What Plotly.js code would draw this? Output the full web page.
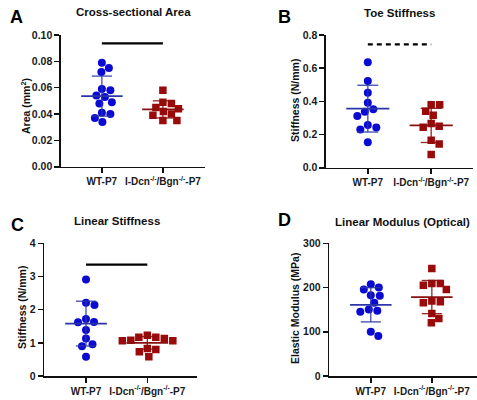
<!DOCTYPE html>
<html>
<head>
<meta charset="utf-8">
<script src="https://cdn.plot.ly/plotly-3.0.1.min.js"></script>
<style>html,body{margin:0;padding:0;background:#fff;}#chart{width:477px;height:400px;}</style>
</head>
<body>
<div id="chart"></div>
<script>
// ---------- data ----------
const groups = ['WT-P7', 'I-Dcn<sup>-/-</sup>/Bgn<sup>-/-</sup>-P7'];
const panelLetters = ['A', 'B', 'C', 'D'];
const panelTitles = ['Cross-sectional Area', 'Toe Stiffness', 'Linear Stiffness', 'Linear Modulus (Optical)'];
const yTitles = ['Area (mm<sup>2</sup>)', 'Stiffness (N/mm)', 'Stiffness (N/mm)', 'Elastic Modulus (MPa)'];

const areaWT = [0.079, 0.075, 0.072, 0.059, 0.058, 0.054, 0.053, 0.049, 0.048, 0.041, 0.040, 0.037, 0.034];
const areaKO = [0.058, 0.049, 0.048, 0.045, 0.044, 0.042, 0.040, 0.039, 0.035, 0.035];
const toeWT = [0.635, 0.522, 0.452, 0.392, 0.352, 0.338, 0.312, 0.257, 0.243, 0.231, 0.153];
const toeKO = [0.380, 0.380, 0.340, 0.316, 0.266, 0.250, 0.244, 0.165, 0.143, 0.080];
const linWT = [2.91, 2.21, 2.14, 1.72, 1.63, 1.62, 1.39, 1.13, 0.96, 0.90, 0.58];
const linKO = [1.23, 1.17, 1.17, 1.13, 1.08, 1.06, 1.06, 0.83, 0.80, 0.73, 0.58];
const modWT = [207.7, 200.2, 195.7, 182.8, 181.3, 165.5, 150.6, 147.4, 145.1, 100.0, 90.3];
const modKO = [243.1, 209.2, 209.2, 205.4, 195.7, 169.3, 167.7, 165.5, 141.5, 130.2, 120.3];

const meanWT = [0.0536, 0.356, 1.58, 161];
const sdWT   = [0.0152, 0.141, 0.675, 38.7];
const meanKO = [0.0435, 0.255, 1.00, 178.5];
const sdKO   = [0.0065, 0.103, 0.19, 37.5];

const yMax = [0.10, 0.8, 4, 300];
const yDtick = [0.02, 0.2, 1, 100];
const yFormat = ['.2f', '.1f', 'd', 'd'];
const sigBarY = [0.0937, 0.744, 3.36, null];
const sigBarDash = ['solid', '5px,4px', 'solid', null];

// ---------- layout helpers ----------
const W = 477, H = 400;
const fx = p => p / W, fy = p => 1 - p / H;
const boxes = [
  {x0: 61, x1: 205, y0: 35, y1: 166.7, xr: [-0.67, 1.69]},
  {x0: 326, x1: 473, y0: 35, y1: 167.7, xr: [-0.66, 1.66]},
  {x0: 44.3, x1: 197, y0: 243.3, y1: 376, xr: [-0.68, 1.81]},
  {x0: 329.3, x1: 477, y0: 243.3, y1: 376, xr: [-0.68, 1.74]}
];
const letterPos = [[16, 17], [284, 17], [17, 225], [284, 220]];
const titlePos = [[133, 12], [399, 13], [117, 221], [402, 222]];
const yTitlePos = [[25, 106], [295, 101], [22, 308], [295, 309]];

const seriesData = [[areaWT, areaKO], [toeWT, toeKO], [linWT, linKO], [modWT, modKO]];
const means = [meanWT, meanKO], sds = [sdWT, sdKO];
const markerColor = ['#0a0ad2', '#9b0a0a'];
const lineColor = ['#2a36a8', '#8a1010'];
const symbols = ['circle', 'square'];
const FAM = 'Liberation Sans, Arial, sans-serif';

// beeswarm offsets (in data x units)
function swarm(vals, pxY, pxX) {
  const D = 8.4;
  const order = vals.map((v, i) => i).sort((a, b) => vals[b] - vals[a]);
  const placed = [];
  const off = new Array(vals.length).fill(0);
  order.forEach(i => {
    const y = vals[i] * pxY;
    for (let k = 0; k < 300; k++) {
      const cand = (k === 0) ? 0 : (k % 2 ? 1 : -1) * Math.ceil(k / 2) * 0.5;
      const ok = placed.every(p => Math.hypot(p.x - cand, p.y - y) >= D);
      if (ok) { placed.push({x: cand, y: y}); off[i] = cand / pxX; break; }
    }
  });
  return off;
}

const traces = [];
const layout = {
  width: W, height: H, margin: {l: 0, r: 0, t: 0, b: 0},
  paper_bgcolor: '#ffffff', plot_bgcolor: 'rgba(0,0,0,0)',
  showlegend: false,
  font: {family: FAM, color: '#1a1a1a', weight: 'bold'},
  annotations: [], shapes: []
};

for (let p = 0; p < 4; p++) {
  const b = boxes[p];
  const sx = p === 0 ? '' : String(p + 1);
  const xa = 'x' + sx, ya = 'y' + sx;
  const pxX = (b.x1 - b.x0) / (b.xr[1] - b.xr[0]);
  const pxY = (b.y1 - b.y0) / yMax[p];

  layout['xaxis' + sx] = {
    domain: [fx(b.x0), fx(b.x1)], range: b.xr, anchor: ya,
    showgrid: false, zeroline: false, showline: true, linecolor: '#111', linewidth: 1.6,
    ticks: 'outside', ticklen: 5, tickwidth: 1.6, tickcolor: '#111',
    tickvals: [0, 1], ticktext: groups,
    tickfont: {size: 10, family: FAM, weight: 'bold', color: '#1a1a1a'},
    fixedrange: true
  };
  layout['yaxis' + sx] = {
    domain: [fy(b.y1), fy(b.y0)], range: [0, yMax[p]], anchor: xa,
    showgrid: false, zeroline: false, showline: true, linecolor: '#111', linewidth: 1.6,
    ticks: 'outside', ticklen: 5, tickwidth: 1.6, tickcolor: '#111',
    dtick: yDtick[p], tick0: 0, tickformat: yFormat[p],
    tickfont: {size: 10.5, family: FAM, weight: 'bold', color: '#1a1a1a'},
    fixedrange: true
  };

  for (let g = 0; g < 2; g++) {
    const vals = seriesData[p][g];
    const off = swarm(vals, pxY, pxX);
    traces.push({
      type: 'scatter', mode: 'markers', xaxis: xa, yaxis: ya,
      x: vals.map((v, i) => g + off[i]), y: vals,
      marker: {symbol: symbols[g], size: g ? 7.5 : 8, color: markerColor[g], line: {width: 0}},
      hoverinfo: 'skip'
    });
    const m = means[g][p], s = sds[g][p];
    const mw = 0.34, cw = 0.165;
    traces.push({type: 'scatter', mode: 'lines', xaxis: xa, yaxis: ya,
      x: [g - mw, g + mw], y: [m, m], line: {color: lineColor[g], width: 1.7}, hoverinfo: 'skip'});
    traces.push({type: 'scatter', mode: 'lines', xaxis: xa, yaxis: ya,
      x: [g - cw, g + cw, null, g, g, null, g - cw, g + cw],
      y: [m + s, m + s, null, m + s, m - s, null, m - s, m - s],
      line: {color: lineColor[g], width: 1.3}, opacity: 0.9, hoverinfo: 'skip'});
  }

  if (sigBarY[p] !== null) {
    layout.shapes.push({type: 'line', xref: xa, yref: ya, x0: 0, x1: 1, y0: sigBarY[p], y1: sigBarY[p],
      line: {color: '#000', width: 2.2, dash: sigBarDash[p]}});
  }

  layout.annotations.push({xref: 'paper', yref: 'paper', x: fx(letterPos[p][0]), y: fy(letterPos[p][1]),
    xanchor: 'center', yanchor: 'middle', showarrow: false, text: panelLetters[p],
    font: {size: 18, weight: 'bold', color: '#000', family: FAM}});
  layout.annotations.push({xref: 'paper', yref: 'paper', x: fx(titlePos[p][0]), y: fy(titlePos[p][1]),
    xanchor: 'center', yanchor: 'middle', showarrow: false, text: panelTitles[p],
    font: {size: 11.5, weight: 'bold', color: '#111', family: FAM}});
  layout.annotations.push({xref: 'paper', yref: 'paper', x: fx(yTitlePos[p][0]), y: fy(yTitlePos[p][1]),
    xanchor: 'center', yanchor: 'middle', showarrow: false, textangle: -90, text: yTitles[p],
    font: {size: 10.5, weight: 'bold', color: '#111', family: FAM}});
}

Plotly.newPlot('chart', traces, layout, {staticPlot: true, displayModeBar: false});
</script>
</body>
</html>
